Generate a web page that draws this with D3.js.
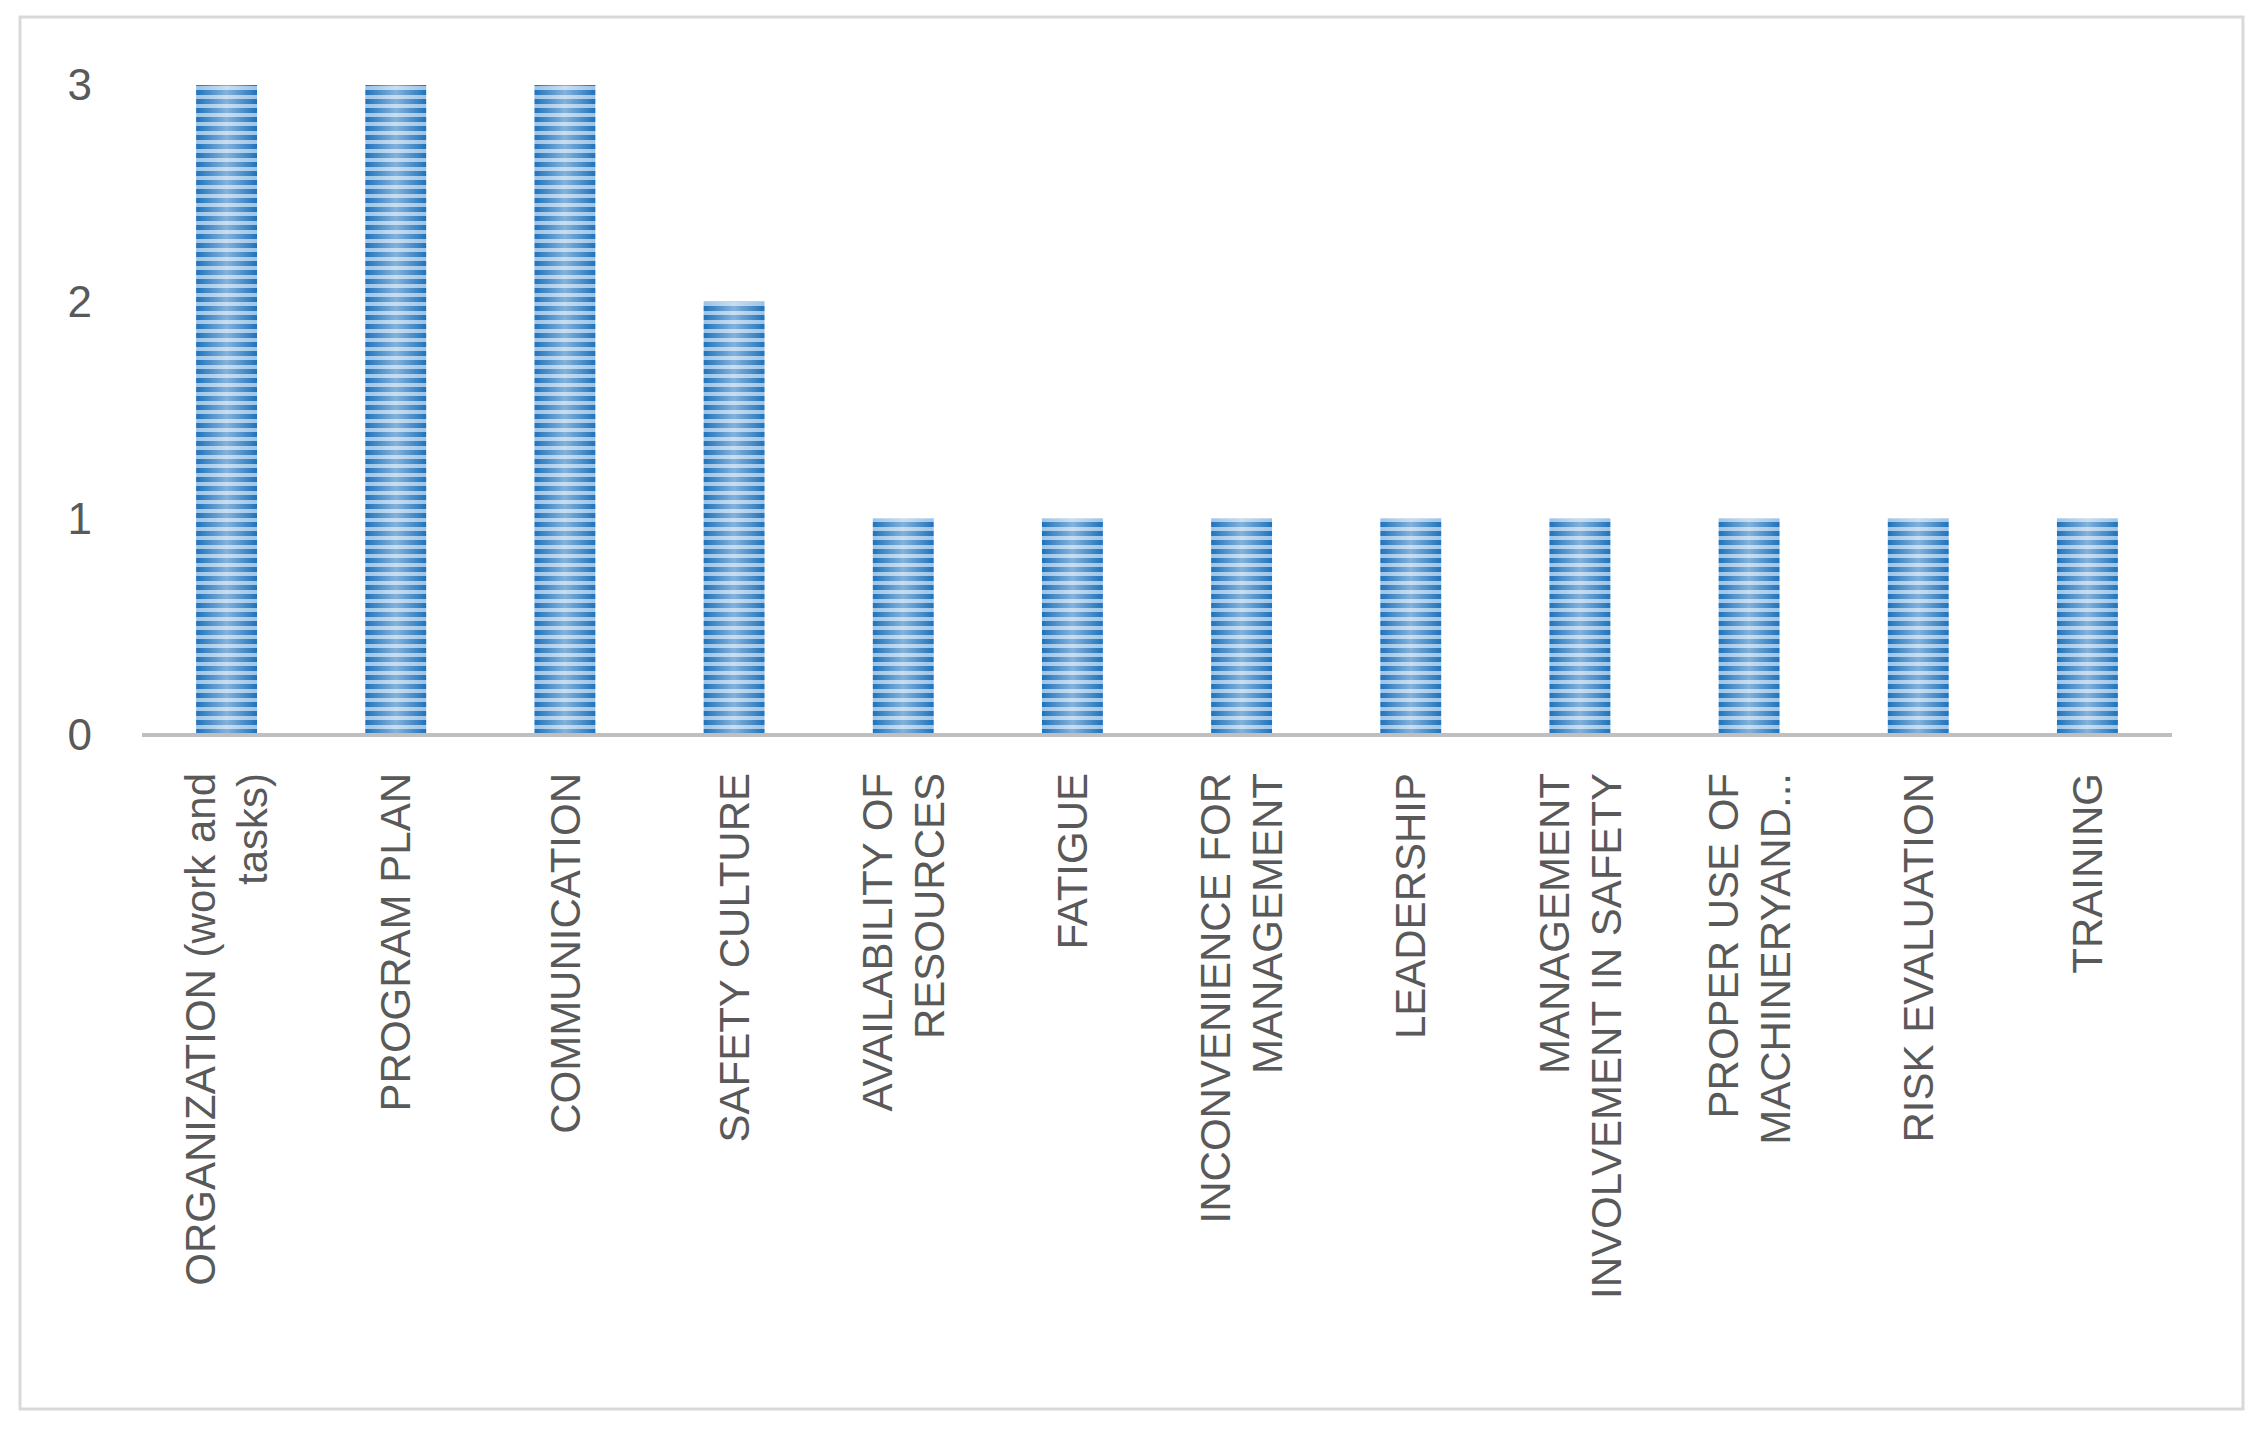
<!DOCTYPE html>
<html><head><meta charset="utf-8">
<script src="https://cdn.jsdelivr.net/npm/d3@7"></script>
<style>body{margin:0;background:#fff}</style></head>
<body><svg id="chart" width="2262" height="1430"></svg>
<script>
// chart data
var categories = [
  ["ORGANIZATION (work and", "tasks)"],
  ["PROGRAM PLAN"],
  ["COMMUNICATION"],
  ["SAFETY CULTURE"],
  ["AVAILABILITY OF", "RESOURCES"],
  ["FATIGUE"],
  ["INCONVENIENCE FOR", "MANAGEMENT"],
  ["LEADERSHIP"],
  ["MANAGEMENT", "INVOLVEMENT IN SAFETY"],
  ["PROPER USE OF", "MACHINERYAND..."],
  ["RISK EVALUATION"],
  ["TRAINING"]
];
var values = [3, 3, 3, 2, 1, 1, 1, 1, 1, 1, 1, 1];
var yTicks = [0, 1, 2, 3];

var svg = d3.select("#chart");
var plotLeft = 142, plotRight = 2172, plotTop = 85, plotBottom = 735;

svg.append("rect").attr("x", 20).attr("y", 17).attr("width", 2223).attr("height", 1392)
  .attr("fill", "#fff").attr("stroke", "#d9d9d9").attr("stroke-width", 3);

// striped fill
var defs = svg.append("defs");
var grad = defs.append("linearGradient").attr("id", "shade");
grad.append("stop").attr("offset", "0%").attr("stop-color", "#fff").attr("stop-opacity", 0);
grad.append("stop").attr("offset", "50%").attr("stop-color", "#fff").attr("stop-opacity", 0.45);
grad.append("stop").attr("offset", "100%").attr("stop-color", "#fff").attr("stop-opacity", 0);
var pat = defs.append("pattern").attr("id", "stripes").attr("patternUnits", "userSpaceOnUse")
  .attr("width", 10).attr("height", 9);
pat.append("rect").attr("width", 10).attr("height", 9).attr("fill", "#9cc3e6");
pat.append("rect").attr("width", 10).attr("height", 5).attr("fill", "#1f73bd");

var x = d3.scaleBand().domain(d3.range(categories.length)).range([plotLeft, plotRight]).paddingInner(0.64).paddingOuter(0.32);
var y = d3.scaleLinear().domain([0, 3]).range([plotBottom, plotTop]);

svg.selectAll(".bar").data(values).join("g").each(function(v, i) {
  var g = d3.select(this);
  g.append("rect").attr("x", x(i)).attr("y", y(v)).attr("width", x.bandwidth())
    .attr("height", y(0) - y(v)).attr("fill", "url(#stripes)");
  g.append("rect").attr("x", x(i)).attr("y", y(v)).attr("width", x.bandwidth())
    .attr("height", y(0) - y(v)).attr("fill", "url(#shade)");
});

svg.append("line").attr("x1", plotLeft).attr("x2", plotRight).attr("y1", y(0)).attr("y2", y(0))
  .attr("stroke", "#bfbfbf").attr("stroke-width", 4);

svg.selectAll(".ytick").data(yTicks).join("text")
  .attr("x", 92).attr("y", d => y(d)).attr("dy", "0.35em").attr("text-anchor", "end")
  .attr("font-family", "Liberation Sans, Arial, sans-serif").attr("font-size", 44)
  .attr("fill", "#595959").text(d => d);

var lineH = 52;
categories.forEach(function(lines, i) {
  var cx = x(i) + x.bandwidth() / 2;
  var t = svg.append("text").attr("transform", "translate(" + cx + "," + 773 + ") rotate(-90)")
    .attr("text-anchor", "end").attr("font-family", "Liberation Sans, Arial, sans-serif")
    .attr("font-size", 42).attr("fill", "#595959");
  lines.forEach(function(s, k) {
    t.append("tspan").attr("x", 0).attr("y", (k - (lines.length - 1) / 2) * lineH).attr("dy", "0.35em").text(s);
  });
});
</script></body></html>
